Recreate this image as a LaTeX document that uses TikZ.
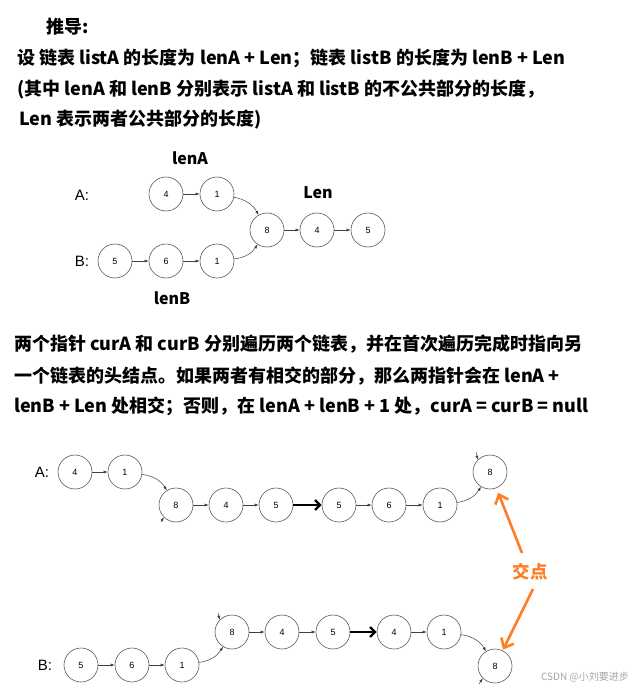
\documentclass[tikz,border=0pt]{standalone}
\usepackage{fontspec}
\setmainfont{Liberation Sans}
\newfontfamily\cjk{Noto Sans CJK SC}
\usetikzlibrary{arrows.meta}
\definecolor{orng}{RGB}{255,125,35}
\tikzset{
  ln/.style={circle, draw=black!65, line width=0.6pt, minimum size=34pt, inner sep=0pt, font=\fontsize{9}{9}\selectfont},
  arr/.style={-{Latex[length=4pt,width=3pt]}, draw=black!75, line width=0.5pt},
  big/.style={-{Straight Barb[length=5pt,width=10pt]}, line width=2.4pt},
  orarr/.style={-{Straight Barb[length=8pt,width=14pt]}, line width=2.6pt, draw=orng},
  txt/.style={anchor=west, inner sep=0pt, font=\cjk\bfseries\fontsize{18}{18}\selectfont},
  lab/.style={inner sep=0pt, font=\cjk\bfseries\fontsize{16}{16}\selectfont},
  rowlab/.style={inner sep=0pt, font=\fontsize{15}{15}\selectfont},
}
\begin{document}
\begin{tikzpicture}[x=1pt,y=-1pt]
\useasboundingbox[fill=white] (0,0) rectangle (643,690);
% text block 1
\node[txt] (t0) at (46,27) {推导:};
\node[txt] (t1) at (17,58) {设 链表 listA 的长度为 lenA + Len；链表 listB 的长度为 lenB + Len};
\node[txt] (t2) at (17,90) {(其中 lenA 和 lenB 分别表示 listA 和 listB 的不公共部分的长度，};
\node[txt] (t3) at (19,120) {Len 表示两者公共部分的长度)};
% diagram 1
\node[lab] (lA) at (190,158) {lenA};
\node[lab] (lL) at (318,193) {Len};
\node[lab] (lB) at (172,298) {lenB};
\node[rowlab] (rA) at (82,195) {A:};
\node[rowlab] (rB) at (82,261) {B:};
\node[ln] (a4) at (166,194) {4};
\node[ln] (a1) at (217,194) {1};
\node[ln] (c8) at (267,230) {8};
\node[ln] (c4) at (317,230) {4};
\node[ln] (c5) at (368,230) {5};
\node[ln] (b5) at (115,261) {5};
\node[ln] (b6) at (166,261) {6};
\node[ln] (b1) at (217,261) {1};
\draw[arr] (a4) -- (a1);
\draw[arr] (a1) to[bend left=25] (c8);
\draw[arr] (b5) -- (b6);
\draw[arr] (b6) -- (b1);
\draw[arr] (b1) to[bend right=25] (c8);
\draw[arr] (c8) -- (c4);
\draw[arr] (c4) -- (c5);
% text block 2
\node[txt] (p1) at (14,344) {两个指针 curA 和 curB 分别遍历两个链表，并在首次遍历完成时指向另};
\node[txt] (p2) at (14,376) {一个链表的头结点。如果两者有相交的部分，那么两指针会在 lenA +};
\node[txt] (p3) at (14,406) {lenB + Len 处相交；否则，在 lenA + lenB + 1 处，curA = curB = null};
% diagram 2, row A
\node[rowlab] (rA2) at (42,472) {A:};
\node[ln] (x4) at (75,472) {4};
\node[ln] (x1) at (125,472) {1};
\node[ln] (x8) at (176,505) {8};
\node[ln] (x4b) at (226,505) {4};
\node[ln] (x5) at (276,505) {5};
\node[ln] (x5b) at (339,505) {5};
\node[ln] (x6) at (389,505) {6};
\node[ln] (x1b) at (440,505) {1};
\node[ln] (x8b) at (490,472) {8};
\draw[arr] (x4) -- (x1);
\draw[arr] (x1) to[bend left=25] (x8);
\draw[arr] (x8) -- (x4b);
\draw[arr] (x4b) -- (x5);
\draw[big] (x5) -- (x5b);
\draw[arr] (x5b) -- (x6);
\draw[arr] (x6) -- (x1b);
\draw[arr] (x1b) to[bend right=25] (x8b);
\coordinate (s1) at (161,522);
\draw[arr] (s1) -- (x8.-135);
\coordinate (s2) at (476,452);
\draw[arr] (s2) -- (x8b.135);
% diagram 2, row B
\node[rowlab] (rB2) at (45,665) {B:};
\node[ln] (y5) at (81,665) {5};
\node[ln] (y6) at (132,665) {6};
\node[ln] (y1) at (182,665) {1};
\node[ln] (y8) at (232,632) {8};
\node[ln] (y4) at (282,632) {4};
\node[ln] (y5b) at (333,632) {5};
\node[ln] (y4b) at (394,632) {4};
\node[ln] (y1b) at (444,632) {1};
\node[ln] (y8b) at (495,666) {8};
\draw[arr] (y5) -- (y6);
\draw[arr] (y6) -- (y1);
\draw[arr] (y1) to[bend right=25] (y8);
\draw[arr] (y8) -- (y4);
\draw[arr] (y4) -- (y5b);
\draw[big] (y5b) -- (y4b);
\draw[arr] (y4b) -- (y1b);
\draw[arr] (y1b) to[bend left=25] (y8b);
\coordinate (s3) at (218,613);
\draw[arr] (s3) -- (y8.135);
\coordinate (s4) at (479,684);
\draw[arr] (s4) -- (y8b.-135);
% intersection label
\node[inner sep=0pt, text=orng, font=\cjk\bfseries\fontsize{17.5}{17.5}\selectfont] (jd) at (530,572) {交点};
\coordinate (o1) at (522,553);
\coordinate (o2) at (533,589);
\draw[orarr, shorten >=5pt] (o1) -- (x8b);
\draw[orarr, shorten >=1pt] (o2) -- (y8b);
% watermark
\node[inner sep=0pt, text=black!35, font=\cjk\fontsize{10}{10}\selectfont] (wm) at (585,677) {CSDN @小刘要进步};
\end{tikzpicture}
\end{document}
